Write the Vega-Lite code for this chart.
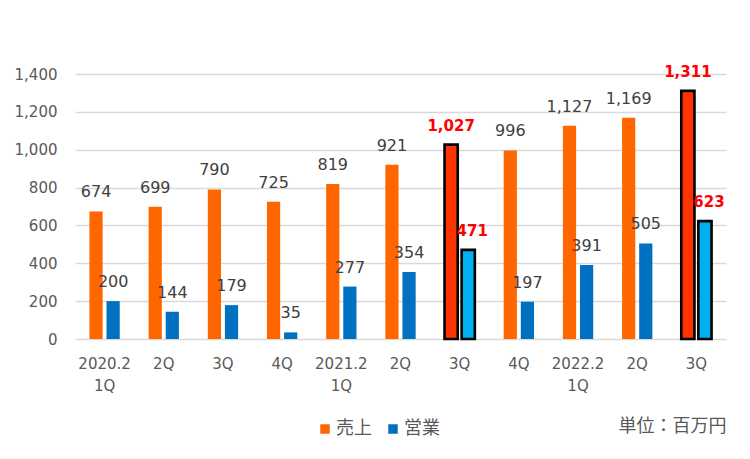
{
  "$schema": "https://vega.github.io/schema/vega-lite/v6.json",
  "width": 651,
  "height": 265,
  "autosize": {"type": "none"},
  "padding": {"left": 75, "top": 74, "right": 24, "bottom": 120},
  "background": "#FFFFFF",
  "data": {
    "values": [
      {"q": "2020.2|1Q", "s": "売上", "v": 674, "hl": false},
      {"q": "2020.2|1Q", "s": "営業", "v": 200, "hl": false},
      {"q": "2020|2Q", "s": "売上", "v": 699, "hl": false},
      {"q": "2020|2Q", "s": "営業", "v": 144, "hl": false},
      {"q": "2020|3Q", "s": "売上", "v": 790, "hl": false},
      {"q": "2020|3Q", "s": "営業", "v": 179, "hl": false},
      {"q": "2020|4Q", "s": "売上", "v": 725, "hl": false},
      {"q": "2020|4Q", "s": "営業", "v": 35, "hl": false},
      {"q": "2021.2|1Q", "s": "売上", "v": 819, "hl": false},
      {"q": "2021.2|1Q", "s": "営業", "v": 277, "hl": false},
      {"q": "2021|2Q", "s": "売上", "v": 921, "hl": false},
      {"q": "2021|2Q", "s": "営業", "v": 354, "hl": false},
      {"q": "2021|3Q", "s": "売上", "v": 1027, "hl": true},
      {"q": "2021|3Q", "s": "営業", "v": 471, "hl": true},
      {"q": "2021|4Q", "s": "売上", "v": 996, "hl": false},
      {"q": "2021|4Q", "s": "営業", "v": 197, "hl": false},
      {"q": "2022.2|1Q", "s": "売上", "v": 1127, "hl": false},
      {"q": "2022.2|1Q", "s": "営業", "v": 391, "hl": false},
      {"q": "2022|2Q", "s": "売上", "v": 1169, "hl": false},
      {"q": "2022|2Q", "s": "営業", "v": 505, "hl": false},
      {"q": "2022|3Q", "s": "売上", "v": 1311, "hl": true},
      {"q": "2022|3Q", "s": "営業", "v": 623, "hl": true}
    ]
  },
  "encoding": {
    "x": {
      "field": "q",
      "type": "nominal",
      "sort": null,
      "scale": {"paddingInner": 0.488, "paddingOuter": 0.244},
      "axis": {
        "title": "単位：百万円",
        "titleAnchor": "end",
        "titleAlign": "right",
        "titleBaseline": "alphabetic",
        "titleY": 92,
        "titleFont": "Noto Sans CJK JP",
        "titleFontSize": 18,
        "titleFontWeight": "normal",
        "titleColor": "#595959",
        "labelAngle": 0,
        "labelExpr": "indexof(datum.value, '.') >= 0 ? split(datum.value, '|') : split(datum.value, '|')[1]",
        "labelFont": "DejaVu Sans",
        "labelFontSize": 15,
        "labelColor": "#595959",
        "labelBaseline": "alphabetic",
        "labelPadding": 29,
        "labelLineHeight": 22,
        "ticks": false,
        "domain": false,
        "grid": false
      }
    },
    "xOffset": {
      "field": "s",
      "type": "nominal",
      "scale": {"domain": ["売上", "営業"], "paddingInner": 0.228, "paddingOuter": 0}
    },
    "y": {
      "field": "v",
      "type": "quantitative",
      "scale": {"domain": [0, 1400], "nice": false},
      "axis": {
        "title": null,
        "values": [0, 200, 400, 600, 800, 1000, 1200, 1400],
        "format": ",d",
        "labelFont": "DejaVu Sans",
        "labelFontSize": 15,
        "labelColor": "#595959",
        "labelPadding": 18,
        "ticks": false,
        "domain": false,
        "grid": true,
        "gridColor": "#D9D9D9",
        "gridWidth": 1.3
      }
    }
  },
  "layer": [
    {
      "mark": {"type": "bar", "strokeWidth": 2.6},
      "encoding": {
        "color": {
          "field": "s",
          "type": "nominal",
          "scale": {"domain": ["売上", "営業"], "range": ["#FF6600", "#0070C0"]},
          "condition": [
            {"test": "datum.hl && datum.s == '売上'", "value": "#FF3300"},
            {"test": "datum.hl && datum.s == '営業'", "value": "#00B0F0"}
          ],
          "legend": {
            "title": null,
            "orient": "none",
            "legendX": 241,
            "legendY": 346,
            "direction": "horizontal",
            "symbolType": "square",
            "symbolSize": 90,
            "symbolStrokeWidth": 0,
            "labelFont": "Noto Sans CJK JP",
            "labelFontSize": 18,
            "labelColor": "#595959",
            "labelOffset": 2,
            "columnPadding": 12
          }
        },
        "stroke": {"condition": {"test": "datum.hl", "value": "#000000"}, "value": null}
      }
    },
    {
      "transform": [{"filter": "!datum.hl"}],
      "mark": {"type": "text", "baseline": "alphabetic", "dy": -14, "font": "DejaVu Sans", "fontSize": 16, "color": "#404040"},
      "encoding": {
        "text": {"field": "v", "type": "quantitative", "format": ",d"}
      }
    },
    {
      "transform": [{"filter": "datum.hl && datum.s == '売上'"}],
      "mark": {"type": "text", "baseline": "alphabetic", "dy": -14, "font": "DejaVu Sans", "fontSize": 15, "fontWeight": "bold", "color": "#FF0000"},
      "encoding": {
        "text": {"field": "v", "type": "quantitative", "format": ",d"}
      }
    },
    {
      "transform": [{"filter": "datum.hl && datum.s == '営業'"}],
      "mark": {"type": "text", "baseline": "alphabetic", "dy": -14, "dx": 4, "font": "DejaVu Sans", "fontSize": 15, "fontWeight": "bold", "color": "#FF0000"},
      "encoding": {
        "text": {"field": "v", "type": "quantitative", "format": ",d"}
      }
    }
  ],
  "config": {"view": {"stroke": null}}
}
